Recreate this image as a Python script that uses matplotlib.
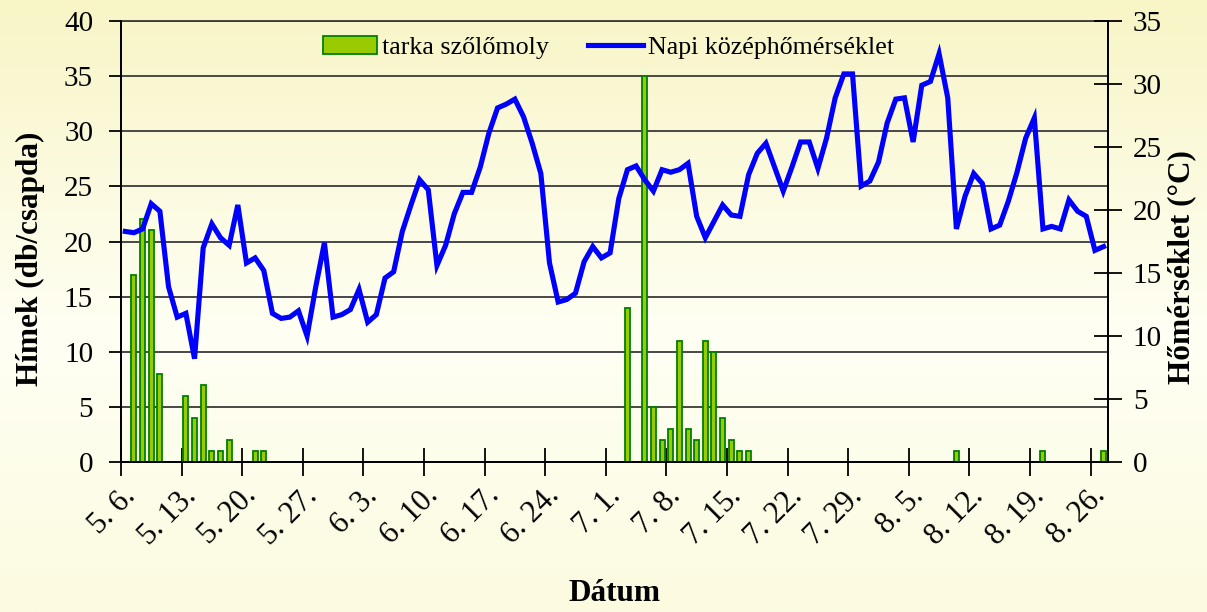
import matplotlib
matplotlib.use('Agg')
import matplotlib.pyplot as plt
from matplotlib.colors import LinearSegmentedColormap
import numpy as np
import datetime

plt.rcParams['font.family'] = ['Liberation Serif', 'DejaVu Serif']

# daily mean temperature (°C), 5.6. - 8.27.
temp = [18.3, 18.2, 18.5, 20.5, 19.9, 13.9, 11.5, 11.8, 8.2, 17.0, 18.9, 17.8,
        17.2, 20.4, 15.8, 16.2, 15.2, 11.8, 11.4, 11.5, 12.0, 10.0, 13.9,
        17.4, 11.5, 11.7, 12.1, 13.7, 11.1, 11.7, 14.6, 15.1, 18.3, 20.4, 22.4,
        21.6, 15.6, 17.2, 19.7, 21.4, 21.4, 23.4, 26.1, 28.1, 28.4, 28.8,
        27.4, 25.3, 22.9, 15.8, 12.7, 12.9, 13.4, 15.9, 17.1, 16.2, 16.6, 20.9,
        23.2, 23.5, 22.4, 21.5, 23.2, 23.0, 23.2, 23.7, 19.5, 17.8, 19.1,
        20.4, 19.6, 19.5, 22.8, 24.5, 25.3, 23.4, 21.5, 23.4, 25.4, 25.4, 23.3,
        25.7, 28.9, 30.8, 30.8, 21.9, 22.3, 23.8, 26.9, 28.8, 28.9, 25.4,
        29.9, 30.2, 32.4, 28.9, 18.5, 21.1, 22.9, 22.1, 18.5, 18.8, 20.7, 23.0,
        25.7, 27.3, 18.5, 18.7, 18.5, 20.8, 19.9, 19.5, 16.8, 17.1]

# trap catches (males / trap)
catch_dates = ['5.7', '5.8', '5.9', '5.10', '5.13', '5.14', '5.15', '5.16', '5.17',
               '5.18', '5.21', '5.22', '7.3', '7.5', '7.6', '7.7', '7.8', '7.9',
               '7.10', '7.11', '7.12', '7.13', '7.14', '7.15', '7.16', '7.17',
               '8.10', '8.20', '8.27']
catch_counts = [17, 22, 21, 8, 6, 4, 7, 1, 1, 2, 1, 1, 14, 35, 5, 2, 3, 11,
                3, 2, 11, 10, 4, 2, 1, 1, 1, 1, 1]

tick_labels = ['5. 6.', '5. 13.', '5. 20.', '5. 27.', '6. 3.', '6. 10.', '6. 17.',
               '6. 24.', '7. 1.', '7. 8.', '7. 15.', '7. 22.', '7. 29.', '8. 5.',
               '8. 12.', '8. 19.', '8. 26.']

start = datetime.date(2000, 5, 6)
def day_index(s):
    m, d = s.split('.')
    return (datetime.date(2000, int(m), int(d)) - start).days

days = np.arange(len(temp))
bar_x = [day_index(s) for s in catch_dates]

fig = plt.figure(figsize=(12.07, 6.12), dpi=100)

# background gradient
bg = fig.add_axes([0, 0, 1, 1], zorder=-10)
cmap = LinearSegmentedColormap.from_list('bg', [(0, '#F8F5C6'), (0.55, '#FFFFF4'), (1, '#FCFBE0')])
grad = np.linspace(0, 1, 256).reshape(-1, 1)
bg.imshow(grad, aspect='auto', cmap=cmap, extent=[0, 1, 0, 1], origin='upper')
bg.axis('off')

ax = fig.add_axes([0.1002, 0.245, 0.8177, 0.7207])
ax.set_facecolor('none')
ax2 = ax.twinx()

bars = ax.bar(bar_x, catch_counts, width=0.58, color='#99CC00', edgecolor='#008000',
              linewidth=1.3, label='tarka szőlőmoly', zorder=3)
line, = ax2.plot(days, temp, color='#0000FF', lw=3.7, solid_joinstyle='miter',
                 label='Napi középhőmérséklet', zorder=4)

ax.set_xlim(-0.5, len(temp) - 0.5)
ax.set_ylim(0, 40)
ax.set_yticks(range(0, 41, 5))
ax2.set_ylim(0, 35)
ax2.set_yticks(range(0, 36, 5))

ax.yaxis.grid(True, color='#3a3a3a', lw=1.3)
ax.set_axisbelow(True)

ax.set_xticks(np.arange(0, len(temp), 7) - 0.5)
ax.set_xticklabels(tick_labels, rotation=45, ha='right', rotation_mode='anchor')

ax.spines['top'].set_color('#3a3a3a')
ax2.spines['top'].set_visible(False)
for a in (ax, ax2):
    for s in a.spines.values():
        s.set_linewidth(1.3)

ax.tick_params(axis='y', direction='out', length=9, width=1.3, labelsize=21, pad=11)
ax.tick_params(axis='x', direction='inout', length=20, width=1.3, labelsize=22, pad=4)
ax2.tick_params(axis='y', direction='inout', length=20, width=1.3, labelsize=21, pad=8)

ax.set_ylabel('Hímek (db/csapda)', fontsize=22.5, fontweight='bold')
ax.yaxis.set_label_coords(-0.077, 0.46)
ax2.set_ylabel('Hőmérséklet (°C)', fontsize=22.5, fontweight='bold')
ax2.yaxis.set_label_coords(1.060, 0.442)
ax.set_xlabel('Dátum', fontsize=22.5, fontweight='bold')
ax.xaxis.set_label_coords(0.5005, -0.266)

fig.legend([bars, line], ['tarka szőlőmoly', 'Napi középhőmérséklet'], loc='center',
           bbox_to_anchor=(0.504, 0.922), ncol=2, frameon=False, fontsize=18.7,
           handlelength=2.1, handletextpad=0.2, columnspacing=1.5)

fig.savefig('out.png', dpi=100)
